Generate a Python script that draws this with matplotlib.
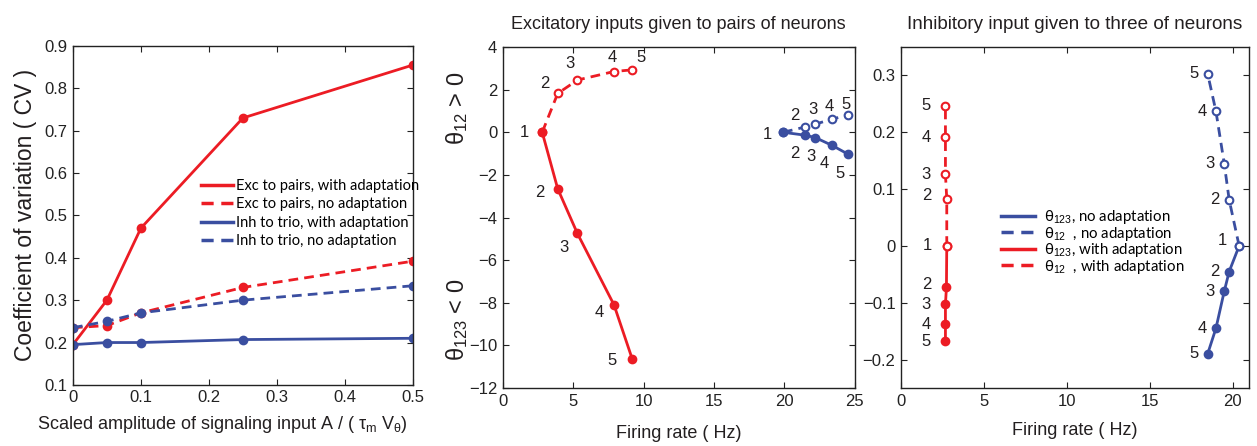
import numpy as np
import matplotlib
matplotlib.use("Agg")
import matplotlib.pyplot as plt

plt.rcParams['font.family'] = ['Liberation Sans', 'DejaVu Sans']
plt.rcParams['mathtext.fontset'] = 'custom'
plt.rcParams['mathtext.rm'] = 'Liberation Sans'
plt.rcParams['mathtext.it'] = 'Liberation Sans'

RED = '#ec1c24'
BLUE = '#3a4ea0'
TXT = '#231f20'

# --- panel A : CV vs scaled amplitude ---
amp = [0, 0.05, 0.1, 0.25, 0.5]
cv_exc_adapt = [0.195, 0.30, 0.47, 0.73, 0.855]
cv_exc_noadapt = [0.235, 0.24, 0.27, 0.33, 0.392]
cv_inh_adapt = [0.195, 0.20, 0.20, 0.207, 0.21]
cv_inh_noadapt = [0.235, 0.25, 0.27, 0.30, 0.334]

# --- panel B : excitatory inputs to pairs ---
exc_rate_adapt = [2.8, 3.9, 5.3, 7.9, 9.2]
exc_th123_adapt = [0, -2.65, -4.75, -8.1, -10.65]
exc_th12_adapt = [0, 1.82, 2.45, 2.85, 2.93]
exc_rate_noadapt = [19.9, 21.5, 22.2, 23.4, 24.5]
exc_th123_noadapt = [0, -0.14, -0.25, -0.62, -1.02]
exc_th12_noadapt = [0, 0.25, 0.38, 0.62, 0.8]

# --- panel C : inhibitory input to three neurons ---
inh_rate_adapt_123 = [2.76, 2.74, 2.68, 2.68, 2.68]
inh_th123_adapt = [0, -0.073, -0.103, -0.138, -0.168]
inh_rate_adapt_12 = [2.76, 2.76, 2.68, 2.68, 2.68]
inh_th12_adapt = [0, 0.083, 0.126, 0.191, 0.247]
inh_rate_noadapt = [20.4, 19.8, 19.5, 19.0, 18.5]
inh_th123_noadapt = [0, -0.045, -0.080, -0.145, -0.19]
inh_th12_noadapt = [0, 0.081, 0.145, 0.237, 0.303]

labels = ['1', '2', '3', '4', '5']

fig = plt.figure(figsize=(12.57, 4.46), dpi=100)
ax1 = fig.add_axes([0.058, 0.137, 0.2705, 0.760])
ax2 = fig.add_axes([0.400, 0.130, 0.280, 0.7646])
ax3 = fig.add_axes([0.7168, 0.130, 0.2769, 0.7646])

DASH = (3.5, 2.2)


def style_axes(ax):
    ax.tick_params(direction='in', top=True, right=True, length=4, width=0.8,
                   labelsize=12, colors='#222222', pad=4)
    for s in ax.spines.values():
        s.set_linewidth(1.0)
        s.set_color('#222222')


def curve(ax, x, y, color, dashed=False, open_=False):
    kw = dict(color=color, lw=2.0, marker='o', ms=5.5, mew=1.5,
              mfc='white' if open_ else color, mec=color)
    line, = ax.plot(x, y, **kw)
    if dashed:
        line.set_dashes(DASH)
    return line


def number(ax, x, y, offsets, start=0):
    for i in range(start, len(x)):
        ax.annotate(labels[i], (x[i], y[i]), xytext=offsets[i],
                    textcoords='offset pixels', ha='center', va='center',
                    fontsize=12, color=TXT)


# panel A
l1 = curve(ax1, amp, cv_exc_adapt, RED)
l2 = curve(ax1, amp, cv_exc_noadapt, RED, dashed=True)
l3 = curve(ax1, amp, cv_inh_adapt, BLUE)
l4 = curve(ax1, amp, cv_inh_noadapt, BLUE, dashed=True)
ax1.set_xlim(0, 0.5)
ax1.set_ylim(0.1, 0.9)
ax1.set_xticks([0, 0.1, 0.2, 0.3, 0.4, 0.5])
ax1.set_xticklabels(['0', '0.1', '0.2', '0.3', '0.4', '0.5'])
ax1.set_yticks(np.arange(0.1, 0.91, 0.1))
ax1.set_yticklabels(['%.1f' % v for v in np.arange(0.1, 0.91, 0.1)])
style_axes(ax1)
ax1.set_ylabel('Coefficient of variation ( CV )', fontsize=16.5, color=TXT, labelpad=5)
ax1.set_xlabel(r'Scaled amplitude of signaling input A / ( $\tau_{m}$ V$_{\theta}$)',
               fontsize=13, color=TXT, labelpad=6)
ax1.xaxis.label.set_x(0.44)
leg = ax1.legend([l1, l2, l3, l4],
                 ['Exc to pairs, with adaptation', 'Exc to pairs, no adaptation',
                  'Inh to trio, with adaptation', 'Inh to trio, no adaptation'],
                 loc='upper left', bbox_to_anchor=(0.36, 0.625), frameon=False,
                 handlelength=2.2, handletextpad=0.2, labelspacing=0.3,
                 borderaxespad=0, prop={'family': 'Lato', 'size': 10.5})
for h in leg.get_lines():
    h.set_marker('')
    h.set_linewidth(2.5)

# panel B
curve(ax2, exc_rate_adapt, exc_th12_adapt, RED, dashed=True, open_=True)
curve(ax2, exc_rate_adapt, exc_th123_adapt, RED)
curve(ax2, exc_rate_noadapt, exc_th12_noadapt, BLUE, dashed=True, open_=True)
curve(ax2, exc_rate_noadapt, exc_th123_noadapt, BLUE)
number(ax2, exc_rate_adapt, exc_th123_adapt,
       [(-18, 0), (-18, -4), (-13, -14), (-15, -8), (-20, -1)])
number(ax2, exc_rate_adapt, exc_th12_adapt,
       [(0, 0), (-13, 10), (-7, 17), (-2, 14), (9, 12)], start=1)
number(ax2, exc_rate_noadapt, exc_th123_noadapt,
       [(-16, -2), (-11, -18), (-4, -19), (-8, -18), (-8, -19)])
number(ax2, exc_rate_noadapt, exc_th12_noadapt,
       [(0, 0), (-11, 11), (-2, 15), (-3, 13), (-2, 11)], start=1)
ax2.set_xlim(0, 25)
ax2.set_ylim(-12, 4)
ax2.set_xticks([0, 5, 10, 15, 20, 25])
ax2.set_yticks(np.arange(-12, 5, 2))
ax2.set_yticklabels(['\u221212', '\u221210', '\u22128', '\u22126', '\u22124', '\u22122',
                     '0', '2', '4'])
style_axes(ax2)
ax2.set_xlabel('Firing rate ( Hz)', fontsize=13, color=TXT, labelpad=12)
ax2.set_title('Excitatory inputs given to pairs of neurons', fontsize=13,
              color=TXT, pad=13)
ax2.text(-0.13, 0.82, r'$\theta_{12}$ > 0', transform=ax2.transAxes, rotation=90,
         ha='center', va='center', fontsize=17, color=TXT)
ax2.text(-0.13, 0.20, r'$\theta_{123}$ < 0', transform=ax2.transAxes, rotation=90,
         ha='center', va='center', fontsize=17, color=TXT)

# panel C
m1 = curve(ax3, inh_rate_noadapt, inh_th123_noadapt, BLUE)
m2 = curve(ax3, inh_rate_noadapt, inh_th12_noadapt, BLUE, dashed=True, open_=True)
m3 = curve(ax3, inh_rate_adapt_123, inh_th123_adapt, RED)
m4 = curve(ax3, inh_rate_adapt_12, inh_th12_adapt, RED, dashed=True, open_=True)
right_off = [(-17, 5), (-14, 0), (-14, 0), (-14, 0), (-14, 0)]
left_off = [(-19, 0), (-20, 3), (-19, 0), (-19, 0), (-19, 0)]
number(ax3, inh_rate_noadapt, inh_th123_noadapt, right_off)
number(ax3, inh_rate_noadapt, inh_th12_noadapt, right_off, start=1)
number(ax3, inh_rate_adapt_123, inh_th123_adapt, left_off)
number(ax3, inh_rate_adapt_12, inh_th12_adapt, left_off, start=1)
ax3.set_xlim(0, 21)
ax3.set_ylim(-0.25, 0.35)
ax3.set_xticks([0, 5, 10, 15, 20])
ax3.set_yticks([-0.2, -0.1, 0, 0.1, 0.2, 0.3])
ax3.set_yticklabels(['\u22120.2', '\u22120.1', '0', '0.1', '0.2', '0.3'])
style_axes(ax3)
ax3.set_xlabel('Firing rate ( Hz)', fontsize=13, color=TXT, labelpad=10)
ax3.set_title('Inhibitory input given to three of neurons', fontsize=13.6,
              color=TXT, pad=13)
leg3 = ax3.legend([m1, m2, m3, m4],
                  ['\u03b8$_{123}$, no adaptation', '\u03b8$_{12}$  , no adaptation',
                   '\u03b8$_{123}$, with adaptation', '\u03b8$_{12}$  , with adaptation'],
                  loc='upper left', bbox_to_anchor=(0.27, 0.545), frameon=False,
                  handlelength=2.3, handletextpad=0.6, labelspacing=-0.1,
                  borderaxespad=0, prop={'family': 'Lato', 'size': 10.8})
for h in leg3.get_lines():
    h.set_marker('')
    h.set_linewidth(2.5)

fig.savefig('out.png', dpi=100)
